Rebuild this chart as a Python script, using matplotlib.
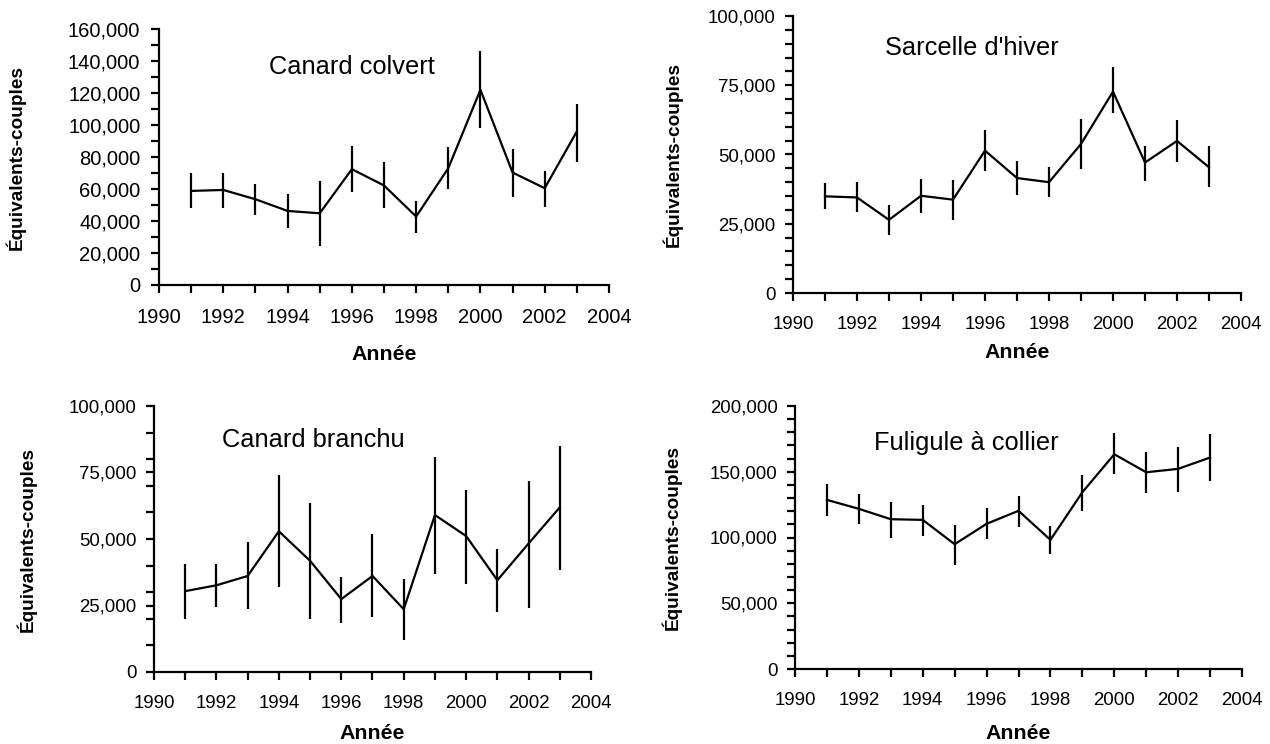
import numpy as np
import matplotlib.pyplot as plt
from matplotlib.ticker import MultipleLocator, FuncFormatter

plt.rcParams['font.family'] = ['Liberation Sans', 'DejaVu Sans']

years = np.arange(1991, 2004)

# Canard colvert
colvert = [58800, 59400, 53600, 46300, 44800, 72400, 62200, 42800, 73000, 122000, 70300, 60500, 96000]
colvert_lo = [48000, 48000, 43800, 35500, 24600, 58000, 48000, 32700, 59900, 98000, 54900, 49000, 76800]
colvert_hi = [69900, 70000, 63000, 56700, 64700, 87000, 76600, 52600, 86000, 146400, 84900, 71500, 113000]

# Sarcelle d'hiver
sarcelle = [34900, 34500, 26400, 35100, 33700, 51400, 41500, 40000, 53800, 72700, 47100, 54900, 45400]
sarcelle_lo = [30300, 29200, 20800, 28800, 26400, 44200, 35500, 34600, 44800, 64900, 40300, 47200, 38200]
sarcelle_hi = [39700, 39900, 31600, 41200, 40900, 58700, 47500, 45400, 62900, 81700, 53200, 62500, 52900]

# Canard branchu
branchu = [30400, 32600, 36100, 52900, 41800, 27400, 36100, 23600, 59000, 51100, 34500, 48300, 61900]
branchu_lo = [19900, 24500, 23500, 32000, 19900, 18400, 20500, 11900, 37000, 33000, 22600, 24200, 38500]
branchu_hi = [40500, 40500, 48900, 74000, 63400, 35800, 51700, 34800, 80700, 68400, 46200, 71900, 85100]

# Fuligule a collier
fuligule = [128600, 121800, 113900, 113400, 94900, 110400, 120300, 98200, 134400, 163300, 149600, 152200, 160800]
fuligule_lo = [116000, 110000, 99500, 101300, 79200, 99000, 107800, 87600, 120500, 148100, 133700, 134400, 143000]
fuligule_hi = [140800, 132900, 127300, 124800, 109600, 122300, 131900, 108400, 147600, 179200, 165300, 169100, 178500]

W, H = 1270, 744
fig = plt.figure(figsize=(W / 100, H / 100), dpi=100)

panels = [
    # values, lo, hi, title, ymax, major, minor, (left, right, top, bottom) px,
    # title pos, ylabel right edge px, xlabel top px, tick font size
    (colvert, colvert_lo, colvert_hi, 'Canard colvert', 160000, 20000, 10000,
     (159, 609, 29, 285), (1996.0, 136000), 26, 345, 14.5),
    (sarcelle, sarcelle_lo, sarcelle_hi, "Sarcelle d'hiver", 100000, 25000, 5000,
     (793, 1241, 16, 293), (1995.6, 88400), 683, 343, 13.4),
    (branchu, branchu_lo, branchu_hi, 'Canard branchu', 100000, 25000, 10000,
     (154, 591, 406, 672), (1995.1, 87200), 37, 724, 13.4),
    (fuligule, fuligule_lo, fuligule_hi, 'Fuligule à collier', 200000, 50000, 10000,
     (795, 1242, 406, 669), (1995.35, 171900), 682, 724, 13.4),
]

for vals, lo, hi, title, ymax, major, minor, box, tpos, ylx, xly, tfs in panels:
    l, r, t, b = box
    ax = fig.add_axes([l / W, 1 - b / H, (r - l) / W, (b - t) / H])
    vals = np.array(vals)
    err = [vals - np.array(lo), np.array(hi) - vals]
    ax.errorbar(years, vals, yerr=err, color='black', lw=1.6, elinewidth=1.6,
                capsize=0, clip_on=False)
    ax.set_xlim(1990, 2004)
    ax.set_ylim(0, ymax)
    ax.xaxis.set_major_locator(MultipleLocator(2))
    ax.xaxis.set_minor_locator(MultipleLocator(1))
    ax.yaxis.set_major_locator(MultipleLocator(major))
    ax.yaxis.set_minor_locator(MultipleLocator(minor))
    ax.yaxis.set_major_formatter(FuncFormatter(lambda v, p: f'{int(v):,}'))
    for s in ['top', 'right']:
        ax.spines[s].set_visible(False)
    for s in ['left', 'bottom']:
        ax.spines[s].set_linewidth(1.6)
    ax.tick_params(axis='both', which='both', direction='out', length=5.5, width=1.6)
    ax.tick_params(axis='x', which='major', labelsize=tfs, pad=11)
    ax.tick_params(axis='y', which='major', labelsize=tfs, pad=8 if tfs > 14 else 7)
    ax.set_xlabel('Année', fontsize=15.3, fontweight='bold')
    ax.xaxis.set_label_coords(0.5, -(xly - b) / (b - t))
    ax.set_ylabel('Équivalents-couples', fontsize=13.7, fontweight='bold')
    ax.yaxis.set_label_coords((ylx - l) / (r - l), 0.5)
    ax.text(tpos[0], tpos[1], title, fontsize=18.3, ha='center', va='center')

plt.savefig('out.png', dpi=100)
